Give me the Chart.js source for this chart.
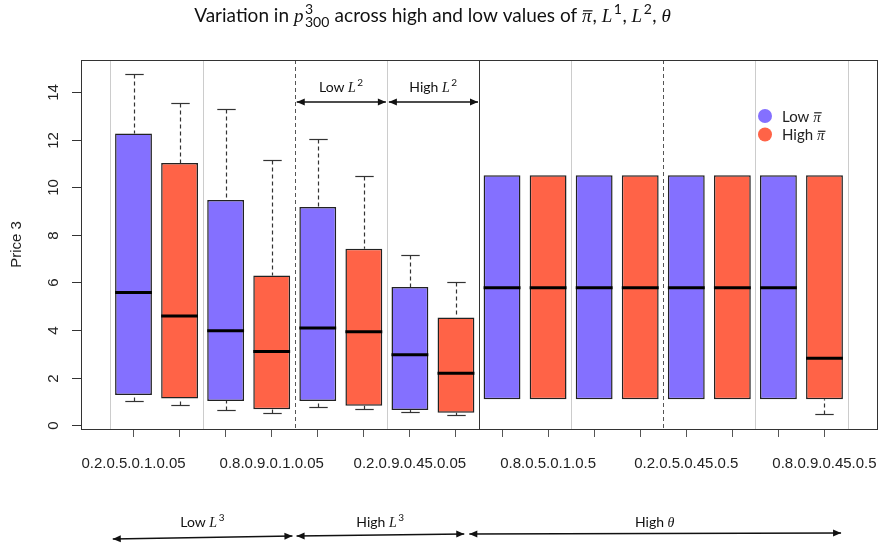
<!DOCTYPE html>
<html>
<head>
<meta charset="utf-8">
<script src="https://cdn.jsdelivr.net/npm/chart.js@4.4.0/dist/chart.umd.min.js"></script>
<style>
  html, body { margin: 0; padding: 0; background: #fff; }
  #wrap { width: 882px; height: 550px; }
</style>
</head>
<body>
<div id="wrap"><canvas id="boxChart" width="882" height="550"></canvas></div>
<script>
// One entry per parameter combination, in the order R put the boxes
const groupLabels = [
    '0.2.0.5.0.1.0.05', '0.8.0.5.0.1.0.05', '0.2.0.9.0.1.0.05', '0.8.0.9.0.1.0.05',
    '0.2.0.5.0.45.0.05', '0.8.0.5.0.45.0.05', '0.2.0.9.0.45.0.05', '0.8.0.9.0.45.0.05',
    '0.2.0.5.0.1.0.5', '0.8.0.5.0.1.0.5', '0.2.0.9.0.1.0.5', '0.8.0.9.0.1.0.5',
    '0.2.0.5.0.45.0.5', '0.8.0.5.0.45.0.5', '0.2.0.9.0.45.0.5', '0.8.0.9.0.45.0.5'
];
const whiskerLow  = [1.01, 0.84, 0.63, 0.52, 0.74, 0.69, 0.55, 0.41, 1.09, 1.09, 1.09, 1.09, 1.09, 1.09, 1.09, 0.46];
const q1          = [1.26, 1.12, 1.01, 0.67, 1.01, 0.81, 0.63, 0.52, 1.09, 1.09, 1.09, 1.09, 1.09, 1.09, 1.09, 1.09];
const median      = [5.57, 4.59, 3.97, 3.09, 4.08, 3.92, 2.96, 2.18, 5.77, 5.77, 5.77, 5.77, 5.77, 5.77, 5.77, 2.81];
const q3          = [12.25, 11.02, 9.46, 6.29, 9.17, 7.41, 5.80, 4.52, 10.5, 10.5, 10.5, 10.5, 10.5, 10.5, 10.5, 10.5];
const whiskerHigh = [14.77, 13.52, 13.29, 11.13, 12.03, 10.46, 7.16, 6.01, 10.5, 10.5, 10.5, 10.5, 10.5, 10.5, 10.5, 10.5];
const yTicks = [0, 2, 4, 6, 8, 10, 12, 14];

// divider lines between groups (x positions in box units)
const lightDividers = [0.5, 2.5, 6.5, 10.5, 14.5, 16.5];
const dashedDividers = [4.5, 12.5];
const solidDividers = [8.5];

const lowColor = '#8470FF';
const highColor = '#FF6347';

// R style axis limits: 4% beyond the data
const yLo = Math.min(...whiskerLow), yHi = Math.max(...whiskerHigh);
const yMin = yLo - (yHi - yLo) * 0.04, yMax = yHi + (yHi - yLo) * 0.04;
const xMin = 0.5 - groupLabels.length * 0.04, xMax = groupLabels.length + 0.5 + groupLabels.length * 0.04;

function boxData(parity) {
    return groupLabels.map((_, i) => i)
        .filter(i => i % 2 === parity)
        .map(i => ({ x: i + 1, y: [q1[i], q3[i]] }));
}

// text with italic math symbols, super/subscripts and overbars
function drawRich(ctx, parts, x, baseline, size, align) {
    const fonts = {
        text: size + 'px Lato',
        math: 'italic ' + size + 'px "Liberation Serif"',
        small: Math.round(size * 0.72) + 'px Lato'
    };
    const widths = parts.map(p => {
        if (p.sup !== undefined || p.sub !== undefined) {
            ctx.font = fonts.small;
            return Math.max(ctx.measureText(p.sup || '').width, ctx.measureText(p.sub || '').width) + 1;
        }
        ctx.font = p.it ? fonts.math : fonts.text;
        return ctx.measureText(p.t).width + (p.it ? 1 : 0);
    });
    const total = widths.reduce((a, b) => a + b, 0);
    let cx = align === 'left' ? x : x - total / 2;
    ctx.textAlign = 'left';
    ctx.textBaseline = 'alphabetic';
    parts.forEach((p, i) => {
        if (p.sup !== undefined || p.sub !== undefined) {
            ctx.font = fonts.small;
            if (p.sup) ctx.fillText(p.sup, cx + 0.5, baseline - size * 0.42);
            if (p.sub) ctx.fillText(p.sub, cx + 0.5, baseline + size * 0.28);
        } else {
            ctx.font = p.it ? fonts.math : fonts.text;
            ctx.fillText(p.t, cx, baseline);
            if (p.bar) {
                ctx.fillRect(cx + 1, baseline - size * 0.62, widths[i] - 1, 1.2);
            }
        }
        cx += widths[i];
    });
}

function drawArrow(ctx, x1, y1, x2, y2) {
    ctx.beginPath();
    ctx.moveTo(x1, y1);
    ctx.lineTo(x2, y2);
    ctx.stroke();
    [[x1, y1, x2, y2], [x2, y2, x1, y1]].forEach(([tx, ty, fx, fy]) => {
        const a = Math.atan2(ty - fy, tx - fx);
        ctx.beginPath();
        ctx.moveTo(tx, ty);
        ctx.lineTo(tx - 8 * Math.cos(a) + 3.5 * Math.sin(a), ty - 8 * Math.sin(a) - 3.5 * Math.cos(a));
        ctx.lineTo(tx - 8 * Math.cos(a) - 3.5 * Math.sin(a), ty - 8 * Math.sin(a) + 3.5 * Math.cos(a));
        ctx.closePath();
        ctx.fill();
    });
}

const topSpans = [
    { parts: [{ t: 'Low ' }, { t: 'L', it: true }, { sup: '2' }], from: 4.5, to: 6.5 },
    { parts: [{ t: 'High ' }, { t: 'L', it: true }, { sup: '2' }], from: 6.5, to: 8.5 }
];
const bottomSpans = [
    { parts: [{ t: 'Low ' }, { t: 'L', it: true }, { sup: '3' }], from: 0.55, to: 4.45, y1: 539, y2: 536 },
    { parts: [{ t: 'High ' }, { t: 'L', it: true }, { sup: '3' }], from: 4.54, to: 8.18, y1: 536, y2: 534 },
    { parts: [{ t: 'High ' }, { t: 'θ', it: true }], from: 8.29, to: 16.36, y1: 534, y2: 533 }
];

const boxExtras = {
    id: 'boxExtras',
    beforeDatasetsDraw(chart) {
        const { ctx, chartArea: a, scales: { x } } = chart;
        ctx.save();
        ctx.lineWidth = 1;
        const vline = (v) => {
            const px = Math.round(x.getPixelForValue(v)) + 0.5;
            ctx.beginPath();
            ctx.moveTo(px, a.top);
            ctx.lineTo(px, a.bottom);
            ctx.stroke();
        };
        ctx.strokeStyle = '#cccccc';
        lightDividers.forEach(vline);
        ctx.strokeStyle = '#555';
        ctx.setLineDash([4, 3]);
        dashedDividers.forEach(vline);
        ctx.setLineDash([]);
        ctx.strokeStyle = '#333';
        solidDividers.forEach(vline);
        ctx.restore();
    },
    afterDatasetsDraw(chart) {
        const { ctx, chartArea: a, scales: { x, y } } = chart;
        ctx.save();
        // whiskers and medians
        chart.data.datasets.forEach((ds, d) => {
            chart.getDatasetMeta(d).data.forEach((bar, k) => {
                const i = ds.data[k].x - 1;
                const cx = Math.round(bar.x) + 0.5;
                const half = bar.width / 2;
                ctx.strokeStyle = '#333';
                ctx.lineWidth = 1.2;
                [[whiskerHigh[i], q3[i]], [whiskerLow[i], q1[i]]].forEach(([w, q]) => {
                    if (Math.abs(w - q) < 1e-9) return;
                    const pw = Math.round(y.getPixelForValue(w)) + 0.5;
                    ctx.setLineDash([4, 3]);
                    ctx.beginPath();
                    ctx.moveTo(cx, pw);
                    ctx.lineTo(cx, y.getPixelForValue(q));
                    ctx.stroke();
                    ctx.setLineDash([]);
                    ctx.beginPath();
                    ctx.moveTo(cx - half / 2, pw);
                    ctx.lineTo(cx + half / 2, pw);
                    ctx.stroke();
                });
                ctx.strokeStyle = '#000';
                ctx.lineWidth = 3;
                const pm = y.getPixelForValue(median[i]);
                ctx.beginPath();
                ctx.moveTo(bar.x - half, pm);
                ctx.lineTo(bar.x + half, pm);
                ctx.stroke();
            });
        });

        // frame
        ctx.strokeStyle = '#333';
        ctx.lineWidth = 1;
        ctx.strokeRect(Math.round(a.left) + 0.5, Math.round(a.top) + 0.5,
            Math.round(a.right - a.left), Math.round(a.bottom - a.top));

        // y axis with rotated labels
        ctx.fillStyle = '#222';
        ctx.font = '15px "Liberation Sans"';
        ctx.textAlign = 'center';
        ctx.textBaseline = 'middle';
        yTicks.forEach(v => {
            const py = Math.round(y.getPixelForValue(v)) + 0.5;
            ctx.beginPath();
            ctx.moveTo(a.left - 9, py);
            ctx.lineTo(a.left, py);
            ctx.stroke();
            ctx.save();
            ctx.translate(a.left - 27, py);
            ctx.rotate(-Math.PI / 2);
            ctx.fillText(String(v), 0, 0);
            ctx.restore();
        });
        ctx.save();
        ctx.translate(17, (a.top + a.bottom) / 2);
        ctx.rotate(-Math.PI / 2);
        ctx.fillText('Price 3', 0, 0);
        ctx.restore();

        // legend
        const legendItems = [
            { color: lowColor, parts: [{ t: 'Low ' }, { t: 'π', it: true, bar: true }] },
            { color: highColor, parts: [{ t: 'High ' }, { t: 'π', it: true, bar: true }] }
        ];
        legendItems.forEach((it, k) => {
            const cy = 116 + k * 18.5;
            ctx.fillStyle = it.color;
            ctx.beginPath();
            ctx.arc(765, cy, 7, 0, Math.PI * 2);
            ctx.fill();
            ctx.fillStyle = '#222';
            drawRich(ctx, it.parts, 782, cy + 5.5, 15, 'left');
        });

        // group annotations
        ctx.fillStyle = '#111';
        ctx.strokeStyle = '#111';
        ctx.lineWidth = 1.3;
        topSpans.forEach(s => {
            const x1 = x.getPixelForValue(s.from) + 2, x2 = x.getPixelForValue(s.to) - 1;
            drawArrow(ctx, x1, 102, x2, 102);
            drawRich(ctx, s.parts, (x1 + x2) / 2, 92, 14);
        });
        bottomSpans.forEach(s => {
            const x1 = x.getPixelForValue(s.from), x2 = x.getPixelForValue(s.to);
            drawArrow(ctx, x1, s.y1, x2, s.y2);
            drawRich(ctx, s.parts, (x1 + x2) / 2, 527, 14);
        });

        // title
        drawRich(ctx, [
            { t: 'Variation in ' }, { t: 'p', it: true }, { sup: '3', sub: '300' },
            { t: ' across high and low values of ' }, { t: 'π', it: true, bar: true },
            { t: ', ' }, { t: 'L', it: true }, { sup: '1' }, { t: ', ' },
            { t: 'L', it: true }, { sup: '2' }, { t: ', ' }, { t: 'θ', it: true }
        ], 433, 22, 19);
        ctx.restore();
    }
};

new Chart(document.getElementById('boxChart'), {
    type: 'bar',
    data: {
        datasets: [
            { label: 'Low π̄', data: boxData(0), backgroundColor: lowColor },
            { label: 'High π̄', data: boxData(1), backgroundColor: highColor }
        ]
    },
    options: {
        responsive: false,
        animation: false,
        devicePixelRatio: 1,
        layout: { padding: { left: 81, top: 60, right: 5, bottom: 71 } },
        datasets: {
            bar: {
                grouped: false,
                borderColor: '#222',
                borderWidth: 1.5,
                borderSkipped: false,
                inflateAmount: 0,
                categoryPercentage: 0.8,
                barPercentage: 1
            }
        },
        plugins: {
            legend: { display: false },
            tooltip: { enabled: false },
            title: { display: false }
        },
        scales: {
            x: {
                type: 'linear',
                min: xMin,
                max: xMax,
                offset: false,
                afterBuildTicks: axis => {
                    axis.ticks = groupLabels.map((_, i) => ({ value: i + 1 }));
                },
                afterFit: axis => {
                    axis.height = 50;
                    axis.paddingLeft = 0;
                    axis.paddingRight = 0;
                },
                grid: { offset: false, drawOnChartArea: false, drawTicks: true, tickLength: 8, color: '#555' },
                border: { display: false },
                ticks: {
                    autoSkip: false,
                    maxRotation: 0,
                    minRotation: 0,
                    padding: 18,
                    color: '#222',
                    font: { family: 'Liberation Sans', size: 15 },
                    callback: (v, i) => (i % 3 === 0 ? groupLabels[i] : '')
                }
            },
            y: { display: false, min: yMin, max: yMax }
        }
    },
    plugins: [boxExtras]
});
</script>
</body>
</html>
